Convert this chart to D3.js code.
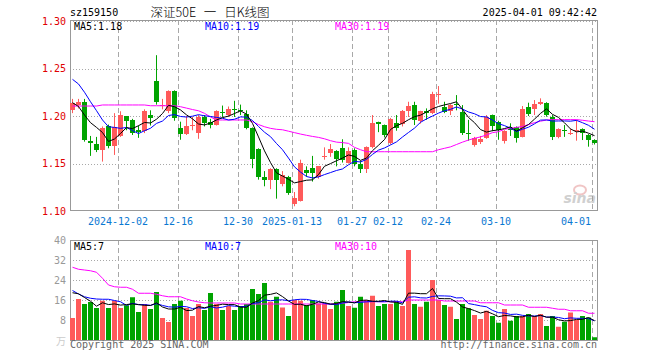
<!DOCTYPE html>
<html>
<head>
<meta charset="utf-8">
<script src="https://cdn.jsdelivr.net/npm/d3@7"></script>
<style>
  body { margin: 0; background: #fff; }
  svg { display: block; }
</style>
</head>
<body>
<div id="chart"></div>
<script>
// header texts
var code = "sz159150";
var title = "深证50E 一 日K线图";
var stamp = "2025-04-01 09:42:42";

// date ticks (trading-day index -> label)
var tickIndex = [8, 18, 28, 37, 47, 53, 61, 71, 87];
var tickLabels = ["2024-12-02", "12-16", "12-30", "2025-01-13", "01-27", "02-12", "02-24", "03-10", "04-01"];

var priceTicks = [1.10, 1.15, 1.20, 1.25, 1.30];
var volTicks = [8, 16, 24, 32, 40];

// daily candles
var open = [1.206,1.212,1.215,1.174,1.171,1.164,1.190,1.168,1.179,1.200,
  1.196,1.185,1.184,1.201,1.237,1.211,1.205,1.226,1.187,1.181,
  1.189,1.182,1.199,1.194,1.191,1.204,1.201,1.2075,1.206,1.202,
  1.187,1.165,1.136,1.133,1.144,1.128,1.1355,1.107,1.111,1.143,
  1.145,1.1355,1.157,1.161,1.163,1.166,1.151,1.164,1.1495,1.144,
  1.167,1.1935,1.1905,1.172,1.193,1.192,1.2055,1.2115,1.195,1.2055,
  1.203,1.2225,1.2098,1.2055,1.2128,1.2045,1.1825,1.1695,1.1726,1.177,
  1.201,1.194,1.174,1.186,1.1888,1.178,1.209,1.2074,1.2126,1.214,
  1.1993,1.178,1.185,1.1822,1.185,1.1863,1.180,1.1747];
var high = [1.218,1.218,1.218,1.179,1.178,1.189,1.191,1.203,1.205,1.200,
  1.197,1.190,1.207,1.206,1.264,1.218,1.227,1.227,1.194,1.200,
  1.199,1.201,1.201,1.197,1.206,1.211,1.210,1.216,1.212,1.206,
  1.188,1.166,1.142,1.145,1.145,1.142,1.137,1.120,1.154,1.147,
  1.158,1.147,1.167,1.1705,1.164,1.1755,1.167,1.166,1.153,1.168,
  1.201,1.194,1.191,1.198,1.201,1.2063,1.215,1.215,1.2055,1.208,
  1.2255,1.2315,1.215,1.2125,1.222,1.2115,1.196,1.178,1.179,1.201,
  1.2015,1.195,1.185,1.1923,1.189,1.2105,1.214,1.2168,1.2186,1.2145,
  1.201,1.187,1.1905,1.1863,1.1958,1.187,1.181,1.1755];
var low = [1.203,1.208,1.173,1.158,1.162,1.152,1.166,1.159,1.178,1.185,
  1.180,1.177,1.182,1.190,1.212,1.207,1.203,1.195,1.175,1.180,
  1.185,1.176,1.189,1.187,1.190,1.199,1.199,1.199,1.201,1.186,
  1.145,1.133,1.126,1.123,1.113,1.126,1.117,1.105,1.110,1.136,
  1.131,1.134,1.154,1.157,1.147,1.151,1.150,1.147,1.140,1.140,
  1.166,1.183,1.1775,1.170,1.1845,1.189,1.199,1.1905,1.192,1.196,
  1.202,1.213,1.203,1.201,1.206,1.180,1.174,1.1677,1.1705,1.176,
  1.184,1.175,1.171,1.179,1.172,1.1775,1.200,1.201,1.2116,1.1993,
  1.1747,1.1765,1.178,1.180,1.174,1.1747,1.1677,1.170];
var close = [1.214,1.215,1.175,1.172,1.164,1.187,1.168,1.188,1.201,1.195,
  1.182,1.183,1.205,1.198,1.215,1.212,1.226,1.198,1.181,1.189,
  1.191,1.199,1.193,1.191,1.205,1.2035,1.207,1.2065,1.2055,1.187,
  1.155,1.136,1.133,1.144,1.133,1.138,1.119,1.114,1.151,1.140,
  1.140,1.147,1.1575,1.165,1.155,1.154,1.1635,1.150,1.144,1.167,
  1.193,1.192,1.180,1.197,1.187,1.2055,1.211,1.196,1.205,1.203,
  1.223,1.223,1.2045,1.212,1.2124,1.1825,1.181,1.177,1.1758,1.199,
  1.190,1.185,1.184,1.185,1.177,1.207,1.202,1.2126,1.215,1.201,
  1.178,1.186,1.1843,1.1826,1.1855,1.1824,1.1747,1.1713];

// volume (万手)
var volume = [8.8,16.4,14.4,15.2,12.8,15.7,12.8,15.7,12.8,13.9,
  17.1,11.2,14.4,12.4,19.2,8.8,7.2,14.4,15.7,12.8,
  9.6,14.4,12,18.8,14.4,12,13.6,12,13.6,14.4,
  20.4,18.4,22.8,15.3,17.3,13,9.6,16,15.7,14,
  16,14.6,14.6,12.4,15.3,20,13.6,12.9,17.3,16,
  17.7,13.6,14.4,14.4,15.3,13.6,36,14.4,13.3,15.3,
  24,16,14,13.3,8.4,14.4,12.7,10,8.4,11.7,
  9.6,6.9,12.4,7.7,9.6,9.6,10.4,9.6,10.4,5.6,
  9.6,5.3,7.3,11,8,9.6,9,1.1];

var ma5Lead = [1.214, 1.210, 1.201, 1.193];
var ma10Lead = [1.2386, 1.2337, 1.225, 1.215, 1.2056, 1.1958, 1.1887, 1.188, 1.187];
var ma30 = [1.2105,1.2105,1.2105,1.2105,1.2105,1.2116,1.2116,1.2116,1.2116,1.2116,
  1.2116,1.2116,1.2116,1.2108,1.2108,1.2108,1.2108,1.2108,1.2098,1.2083,
  1.2068,1.2055,1.2028,1.199,1.1958,1.1958,1.1958,1.1958,1.1958,1.1958,
  1.194,1.191,1.1887,1.187,1.186,1.1855,1.184,1.1825,1.181,1.1797,
  1.1785,1.1775,1.176,1.174,1.1725,1.172,1.1712,1.167,1.1645,1.1624,
  1.1624,1.1624,1.1624,1.1624,1.1624,1.1624,1.1624,1.1624,1.1624,1.1624,
  1.1624,1.1645,1.166,1.1675,1.170,1.1725,1.1747,1.1765,1.178,1.180,
  1.1825,1.1835,1.186,1.187,1.188,1.189,1.191,1.193,1.1945,1.1958,
  1.1962,1.1962,1.1962,1.1962,1.1962,1.1955,1.1947,1.194];
var volMa5Lead = [18.9, 18.5, 17, 15.5];
var volMa10Lead = [19.8, 18.4, 17.3, 16.7, 16.4, 16.3, 16.3, 15.8, 15.3];
var volMa30 = [29.1,28.3,28.0,27.7,27.1,24.7,22.0,21.3,21.1,21.1,
  20.3,18.7,18.7,18.7,18.3,17.7,17.3,17.3,17.3,16.4,
  15.7,15.2,14.9,14.8,14.8,14.8,14.8,14.8,14.4,14.4,
  14.4,14.4,14.4,14.4,14.4,14.4,14.4,14.4,14.4,14.4,
  14.4,14.4,14.4,14.4,14.5,14.7,15.0,15.3,15.3,15.3,
  15.3,15.3,15.3,15.3,15.3,15.3,16.0,16.0,16.0,16.0,
  16.0,16.0,15.6,15.6,15.6,15.6,15.6,15.6,14.9,14.9,
  14.9,14.9,14.0,14.0,14.0,14.0,13.1,13.1,13.1,13.1,
  12.7,12.3,12.3,11.7,11.7,11.7,10.7,10.7];

var W = 660, H = 360;
var left = 70, right = 597;
var red = "#ff5a5a", green = "#00a300", grid = "#a8a8a8", mono = "DejaVu Sans Mono, monospace";

function movingAvg(arr, n, lead) {
    return arr.map(function(v, i) {
	if (i < n - 1) return lead[i];
	return d3.mean(arr.slice(i - n + 1, i + 1));
    });
}

var ma5 = movingAvg(close, 5, ma5Lead);
var ma10 = movingAvg(close, 10, ma10Lead);
var volMa5 = movingAvg(volume, 5, volMa5Lead);
var volMa10 = movingAvg(volume, 10, volMa10Lead);

var svg = d3.select("#chart").append("svg")
    .attr("width", W).attr("height", H);

var x = d3.scaleLinear().domain([0, 88]).range([left, left + 6 * 88]);
var yP = d3.scaleLinear().domain([1.10, 1.30]).range([211, 21]);
var yV = d3.scaleLinear().domain([0, 40]).range([340, 240]);

function crisp(v) { return Math.round(v) + 0.5; }

// ---------- panels: grid + frame ----------
function panel(y, ticks, top, bottom, labelColor, fmt) {
    var g = svg.append("g");
    ticks.forEach(function(t) {
	var yy = crisp(y(t));
	if (yy > top + 1 && yy < bottom - 1) {
	    g.append("line").attr("x1", left).attr("x2", right)
		.attr("y1", yy).attr("y2", yy)
		.attr("stroke", grid).attr("stroke-dasharray", "1,2");
	}
	g.append("text").attr("x", 66).attr("y", y(t) + 3.5)
	    .attr("text-anchor", "end").attr("fill", labelColor)
	    .attr("font-family", mono).attr("font-size", 10)
	    .text(fmt(t));
    });
    tickIndex.forEach(function(i) {
	var xx = crisp(x(i));
	g.append("line").attr("x1", xx).attr("x2", xx)
	    .attr("y1", top).attr("y2", bottom)
	    .attr("stroke", grid).attr("stroke-dasharray", "5,3");
    });
    g.append("rect").attr("x", left + 0.5).attr("y", top + 0.5)
	.attr("width", right - left).attr("height", bottom - top)
	.attr("fill", "none").attr("stroke", "#999");
}
panel(yP, priceTicks, 20, 210, "#e00000", d3.format(".2f"));
panel(yV, volTicks, 240, 340, "#999", d3.format("d"));

// ---------- candles ----------
var cg = svg.append("g");
close.forEach(function(c, i) {
    var o = open[i];
    var col = c >= o ? red : green;
    var cx = crisp(x(i) + 2);
    cg.append("line").attr("x1", cx).attr("x2", cx)
	.attr("y1", yP(high[i])).attr("y2", yP(low[i]))
	.attr("stroke", col);
    var y0 = Math.round(yP(Math.max(o, c)));
    var y1 = Math.round(yP(Math.min(o, c)));
    cg.append("rect").attr("x", x(i)).attr("y", y0)
	.attr("width", 5).attr("height", Math.max(1, y1 - y0))
	.attr("fill", col);
});

// ---------- volume bars ----------
var vg = svg.append("g");
volume.forEach(function(v, i) {
    var col = close[i] >= open[i] ? red : green;
    vg.append("rect").attr("x", x(i)).attr("y", yV(v))
	.attr("width", 5).attr("height", yV(0) - yV(v))
	.attr("fill", col);
});

// ---------- MA lines ----------
function maLine(vals, y, color) {
    svg.append("path").datum(vals)
	.attr("fill", "none").attr("stroke", color).attr("stroke-width", 1)
	.attr("d", d3.line()
	      .x(function(d, i) { return x(i) + 2.5; })
	      .y(function(d) { return y(d); }));
}
maLine(ma30, yP, "#ff00ff");
maLine(ma10, yP, "#0000ff");
maLine(ma5, yP, "#000000");
maLine(volMa30, yV, "#ff00ff");
maLine(volMa10, yV, "#0000ff");
maLine(volMa5, yV, "#000000");

// ---------- legends ----------
function legend(yy, vals, fmt) {
    var items = [["MA5:", "#000", 74], ["MA10:", "#0000ff", 205], ["MA30:", "#ff00ff", 335]];
    items.forEach(function(it, k) {
	svg.append("text").attr("x", it[2]).attr("y", yy)
	    .attr("fill", it[1]).attr("font-family", mono).attr("font-size", 10)
	    .text(it[0] + fmt(vals[k]));
    });
}
var last = close.length - 1;
legend(29.5, [ma5[last], ma10[last], ma30[last]], d3.format(".2f"));
legend(249.5, [volMa5[last], volMa10[last], volMa30[last]], function(v) { return Math.floor(v); });

// ---------- date labels ----------
tickIndex.forEach(function(i, k) {
    var label = tickLabels[k];
    var half = label.length * 3;
    var cx = Math.min(x(i), right - half - 6);
    svg.append("text").attr("x", cx).attr("y", 225)
	.attr("text-anchor", "middle").attr("fill", "#0a78d2")
	.attr("font-family", mono).attr("font-size", 10)
	.text(label);
});

// ---------- header / footer ----------
svg.append("text").attr("x", 70).attr("y", 16)
    .attr("font-family", mono).attr("font-size", 10).attr("fill", "#000")
    .text(code);
svg.append("text").attr("x", 210).attr("y", 16.5).attr("text-anchor", "middle")
    .attr("font-family", "Noto Sans CJK SC, sans-serif").attr("font-size", 12.5)
    .attr("font-weight", 300).attr("word-spacing", 5).attr("fill", "#000")
    .text(title);
svg.append("text").attr("x", right).attr("y", 16).attr("text-anchor", "end")
    .attr("font-family", mono).attr("font-size", 10).attr("fill", "#000")
    .text(stamp);
svg.append("text").attr("x", 70).attr("y", 348)
    .attr("font-family", mono).attr("font-size", 10).attr("fill", "#666")
    .text("Copyright 2025 SINA.COM");
svg.append("text").attr("x", right).attr("y", 348).attr("text-anchor", "end")
    .attr("font-family", mono).attr("font-size", 10).attr("fill", "#666")
    .text("http://finance.sina.com.cn");
svg.append("text").attr("x", 66).attr("y", 345).attr("text-anchor", "end")
    .attr("font-family", "Noto Sans CJK SC, sans-serif").attr("font-size", 10).attr("fill", "#ccc")
    .text("万");

// sina watermark
var wm = svg.append("g").attr("opacity", 0.45);
wm.append("ellipse").attr("cx", 580).attr("cy", 190).attr("rx", 6).attr("ry", 4.5)
    .attr("fill", "none").attr("stroke", "#e08080").attr("stroke-width", 2);
wm.append("text").attr("x", 596).attr("y", 203).attr("text-anchor", "end")
    .attr("font-family", "DejaVu Sans, sans-serif").attr("font-size", 14)
    .attr("font-weight", "bold").attr("font-style", "italic").attr("fill", "#999")
    .text("sina");
</script>
</body>
</html>
